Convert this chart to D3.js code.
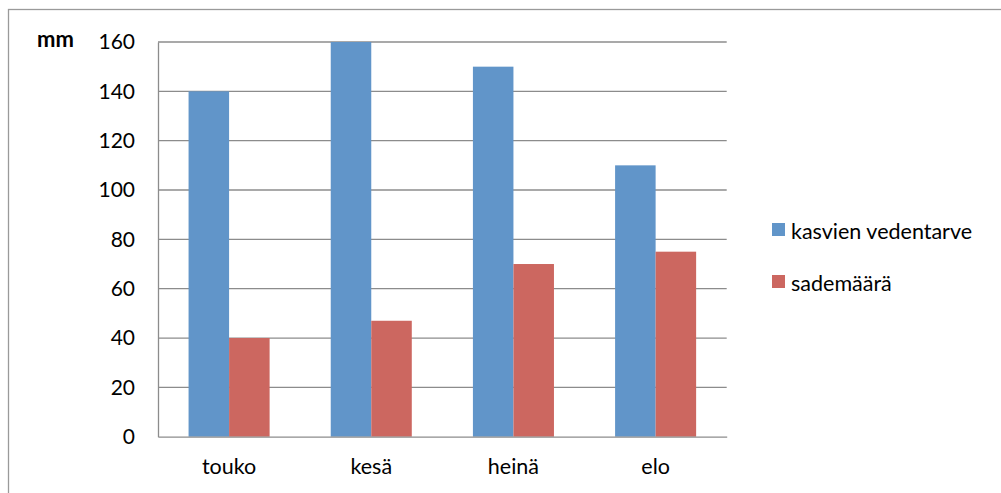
<!DOCTYPE html>
<html>
<head>
<meta charset="utf-8">
<script src="https://cdn.jsdelivr.net/npm/d3@7"></script>
<style>
  body { margin: 0; background: #fff; }
  text { font-family: Lato, "Noto Sans", sans-serif; fill: #000; }
</style>
</head>
<body>
<div id="chart"></div>
<script>
//-- Data
var months = ['touko', 'kesä', 'heinä', 'elo'];
var series_names = ['kasvien vedentarve', 'sademäärä'];
var vedentarve = [140, 160, 150, 110];
var sademaara = [40, 47, 70, 75];
var y_ticks = [0, 20, 40, 60, 80, 100, 120, 140, 160];
var colors = ['#6195C9', '#CC6760'];

function BC_Make_Canvas(wrap) {
  var tot_width = 1001;
  var tot_height = 493;
  var margin = {left: 158, right: 274, top: 42, bottom: 56};

  var svg = d3.select(wrap.id)
    .append("svg")
      .attr("width", tot_width)
      .attr("height", tot_height);

  svg.append("rect")
    .attr("width", tot_width)
    .attr("height", tot_height)
    .attr("fill", "white");

  //-- outer frame (cut off at right and bottom)
  svg.append("rect")
    .attr("x", 8.5)
    .attr("y", 9.5)
    .attr("width", tot_width + 10)
    .attr("height", tot_height + 10)
    .attr("fill", "none")
    .attr("stroke", "#9a9a9a")
    .attr("stroke-width", 1.3);

  wrap.svg = svg;
  wrap.margin = margin;
  wrap.x0 = margin.left;
  wrap.x1 = 726.7;
  wrap.y0 = 436.7;
  wrap.y1 = 42;
}

function BC_initialize(wrap) {
  var svg = wrap.svg;

  var y = d3.scaleLinear()
    .domain([0, 160])
    .range([wrap.y0, wrap.y1]);

  var x = d3.scaleBand()
    .domain(months)
    .range([wrap.x0, wrap.x1])
    .paddingInner(0.43)
    .paddingOuter(0.215);

  var xs = d3.scaleBand()
    .domain(series_names)
    .range([0, x.bandwidth()]);

  //-- Gridlines
  svg.append("g")
    .selectAll("line")
    .data(y_ticks.filter(function (d) {return d > 0;}))
    .enter()
    .append("line")
      .attr("x1", wrap.x0)
      .attr("x2", wrap.x1)
      .attr("y1", function (d) {return y(d);})
      .attr("y2", function (d) {return y(d);})
      .attr("stroke", "#8c8c8c")
      .attr("stroke-width", 1.3);

  //-- Bars
  var table = [];
  months.forEach(function (m, i) {
    table.push({month: m, series: series_names[0], value: vedentarve[i], c: colors[0]});
    table.push({month: m, series: series_names[1], value: sademaara[i], c: colors[1]});
  });

  svg.append("g")
    .selectAll("rect")
    .data(table)
    .enter()
    .append("rect")
      .attr("x", function (d) {return x(d.month) + xs(d.series);})
      .attr("y", function (d) {return y(d.value);})
      .attr("width", xs.bandwidth())
      .attr("height", function (d) {return y(0) - y(d.value);})
      .attr("fill", function (d) {return d.c;});

  //-- Y axis
  var y_axis = d3.axisLeft(y)
    .tickValues(y_ticks)
    .tickSize(0)
    .tickPadding(23);

  var gy = svg.append("g")
    .attr("transform", "translate(" + wrap.x0 + ",0)")
    .call(y_axis);
  gy.select(".domain").attr("stroke", "#8c8c8c").attr("stroke-width", 1.3);
  gy.selectAll("text")
    .style("font-family", "Lato, 'Noto Sans', sans-serif")
    .style("font-size", "21px")
    .attr("fill", "#000");

  //-- X axis
  var x_axis = d3.axisBottom(x)
    .tickSize(0)
    .tickPadding(22);

  var gx = svg.append("g")
    .attr("transform", "translate(0," + wrap.y0 + ")")
    .call(x_axis);
  gx.select(".domain").attr("stroke", "#8c8c8c").attr("stroke-width", 1.3);
  gx.selectAll("text")
    .style("font-family", "Lato, 'Noto Sans', sans-serif")
    .style("font-size", "21.5px")
    .attr("fill", "#000");

  //-- Unit label
  svg.append("text")
    .attr("x", 37)
    .attr("y", 47)
    .style("font-size", "22px")
    .style("font-weight", "bold")
    .text("mm");

  //-- Legend
  var legend = svg.append("g")
    .selectAll("g")
    .data(series_names)
    .enter()
    .append("g")
      .attr("transform", function (d, i) {return "translate(772," + (223 + i * 52) + ")";});

  legend.append("rect")
    .attr("width", 13)
    .attr("height", 13)
    .attr("fill", function (d, i) {return colors[i];});

  legend.append("text")
    .attr("x", 19)
    .attr("y", 16)
    .style("font-size", "21.5px")
    .text(function (d) {return d;});
}

var wrap = {id: "#chart"};
BC_Make_Canvas(wrap);
BC_initialize(wrap);
</script>
</body>
</html>
